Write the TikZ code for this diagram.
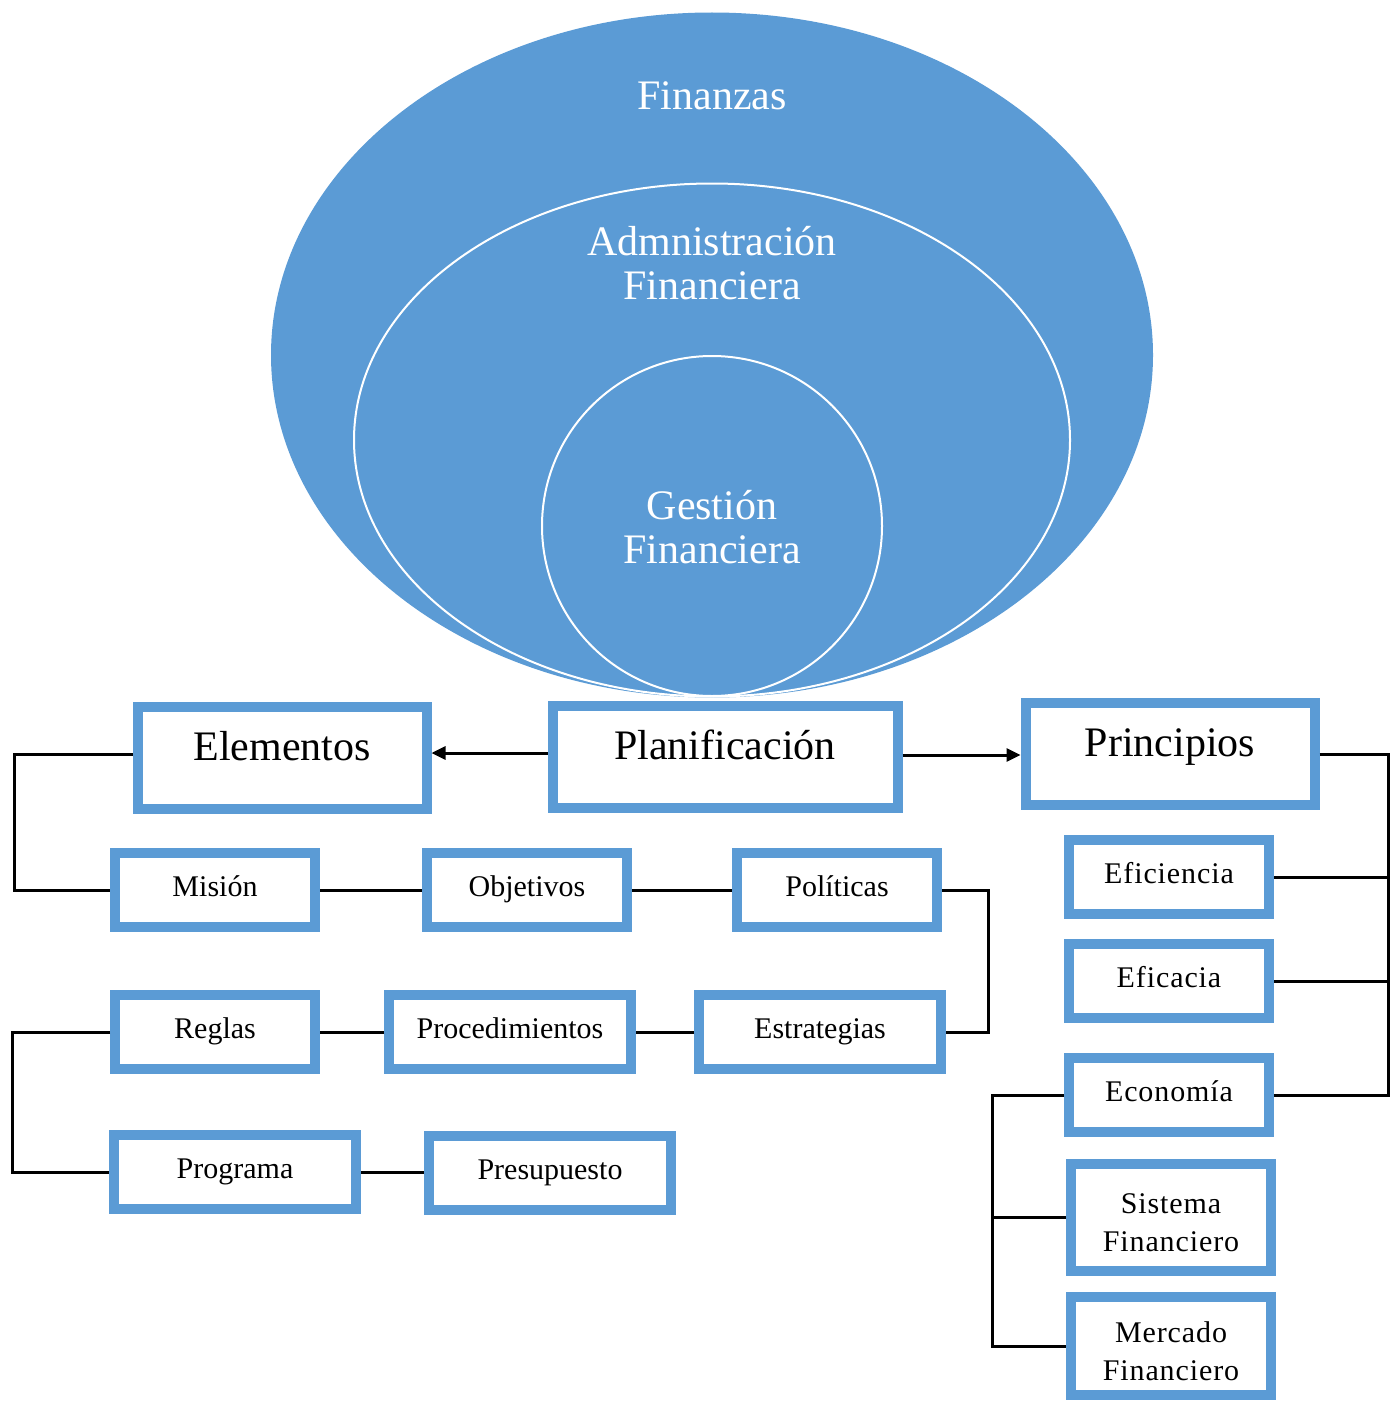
\documentclass[tikz,border=0pt]{standalone}
\usepackage{fontspec}
\setmainfont{Liberation Serif}
\usepackage{xcolor}
\usepackage{tikz}
\usetikzlibrary{arrows.meta,positioning,shapes.geometric,calc}
\definecolor{azul}{HTML}{5B9BD5}

\begin{document}
\begin{tikzpicture}[
  x=0.5pt, y=-0.5pt,
  every node/.style={font=\fontsize{15}{19}\selectfont, align=center, inner sep=0pt},
  marco/.style={draw=azul, line width=5pt, fill=white, minimum width=100pt},
  caja/.style={marco, minimum height=37pt, text height=0.7em, text depth=0.06em},
  cajaancha/.style={caja, minimum width=121pt},
  cajader/.style={caja, font=\fontsize{15}{19}\selectfont\addfontfeature{LetterSpace=3}},
  cajados/.style={marco, text height=34pt, text depth=0pt, font=\fontsize{15}{19}\selectfont\addfontfeature{LetterSpace=3}},
  cajagrande/.style={marco, minimum height=51pt, text height=0.7em, text depth=0.47em, font=\fontsize{21}{24}\selectfont},
  rotulo/.style={text=white, font=\fontsize{21}{22}\selectfont},
  linea/.style={line width=1.5pt},
  flecha/.style={line width=1.5pt, -{Triangle[length=7pt,width=6.5pt]}}
]
\useasboundingbox (0,0) rectangle (1395,1402);

\node[ellipse, fill=azul, minimum width=441pt, minimum height=342.5pt] (finanzas) at (712,355) {};
\node[ellipse, fill=azul, draw=white, line width=1pt, minimum width=358pt, minimum height=256.5pt] (admin) at (712,440) {};
\node[circle, fill=azul, draw=white, line width=1pt, minimum size=170pt] (gestion) at (712,526) {};
\node[rotulo] (tfin) at (712,96) {Finanzas};
\node[rotulo] (tadm) at (712,263) {Admnistración\\Financiera};
\node[rotulo] (tges) at (712,527) {Gestión\\Financiera};

\node[cajagrande, minimum width=144.5pt] (elementos) at (282,758) {Elementos};
\node[cajagrande, minimum width=172.5pt] (planif) at (725,757) {Planificación};
\node[cajagrande, minimum width=144.5pt] (principios) at (1170,754) {Principios};

\node[caja] (mision) at (215,890) {Misión};
\node[caja] (objetivos) at (527,890) {Objetivos};
\node[caja] (politicas) at (837,890) {Políticas};
\node[caja] (reglas) at (215,1032) {Reglas};
\node[cajaancha] (proced) at (510,1032) {Procedimientos};
\node[cajaancha] (estrat) at (820,1032) {Estrategias};
\node[cajaancha] (programa) at (235,1172) {Programa};
\node[cajaancha] (presup) at (550,1173) {Presupuesto};

\node[cajader] (eficiencia) at (1169,877) {Eficiencia};
\node[cajader] (eficacia) at (1169,981) {Eficacia};
\node[cajader] (economia) at (1169,1095) {Economía};
\node[cajados, minimum height=53.5pt] (sistema) at (1171,1217) {Sistema\\Financiero};
\node[cajados, minimum height=49pt] (mercado) at (1171,1346) {Mercado\\Financiero};

\coordinate (colizq) at (14,0);
\coordinate (colizqb) at (12,0);
\coordinate (colpol) at (988,0);
\coordinate (colder) at (1388,0);
\coordinate (coleco) at (992,0);

\draw[flecha] ([yshift=2pt]planif.west) -- ([yshift=2pt]planif.west -| elementos.east);
\draw[flecha] ([yshift=1pt]planif.east) -- ([yshift=1pt]planif.east -| principios.west);

\draw[linea] ([yshift=2pt]elementos.west) -- ([yshift=2pt]elementos.west -| colizq) |- (mision.west);
\draw[linea] (mision.east) -- (objetivos.west);
\draw[linea] (objetivos.east) -- (politicas.west);
\draw[linea] (politicas.east) -- (politicas.east -| colpol) |- (estrat.east);
\draw[linea] (estrat.west) -- (proced.east);
\draw[linea] (proced.west) -- (reglas.east);
\draw[linea] (reglas.west) -- (reglas.west -| colizqb) |- (programa.west);
\draw[linea] (programa.east) -- (programa.east -| presup.west);

\draw[linea] (principios.east) -- (principios.east -| colder) |- (economia.east);
\draw[linea] (eficiencia.east) -- (eficiencia.east -| colder);
\draw[linea] (eficacia.east) -- (eficacia.east -| colder);
\draw[linea] (economia.west) -- (economia.west -| coleco) |- (mercado.west);
\draw[linea] (sistema.west) -- (sistema.west -| coleco);
\end{tikzpicture}
\end{document}
